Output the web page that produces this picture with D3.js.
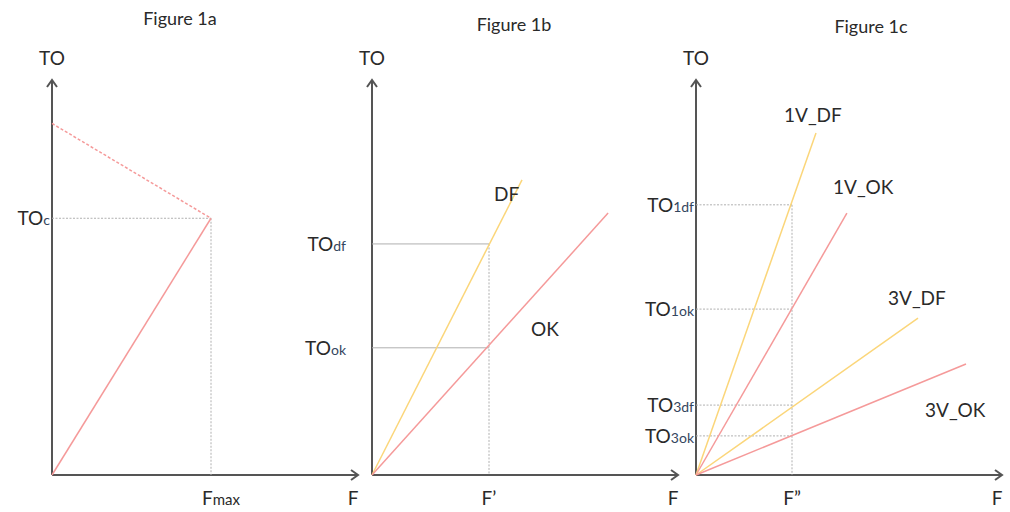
<!DOCTYPE html>
<meta charset="utf-8">
<style>
body{ margin:0; background:#fff; }
text{ font-family: Lato, "Open Sans", sans-serif; fill:#2a2a2a; }
</style>
<body>
<svg class="chart"></svg>
<script src="https://d3js.org/d3.v7.min.js"></script>
<script>
// panel titles and axis labels
var titles = ["Figure 1a", "Figure 1b", "Figure 1c"];
var fTicks = [["F", "max"], ["F\u2019", ""], ["F\u201D", ""]];

// values in arbitrary units, F 0..100, TO 0..100
// figure 1a
var aOK = [[0, 0], [53, 65]];
var aDashed = [[0, 89], [53, 65]];
var aFmax = 53, aTOc = 65;

// figure 1b
var bNames = ["DF", "OK"];
var bEnds = [[50, 74.7], [78.7, 66.3]];
var bFprime = 39;
var bCross = [58.5, 32.2];
var bCrossLabels = [["TO", "df"], ["TO", "ok"]];

// figure 1c
var cNames = ["1V_DF", "1V_OK", "3V_DF", "3V_OK"];
var cEnds = [[40, 86.6], [50.3, 66.3], [74, 39.7], [90, 28.1]];
var cFprime = 32;
var cCross = [68.4, 42, 17.7, 9.9];
var cCrossLabels = [["TO", "1df"], ["TO", "1ok"], ["TO", "3df"], ["TO", "3ok"]];

var RED = "#f59a9a", YEL = "#fbd67a", GRID = "#b0b0b0", AX = "#555";
var FS = 19;

var svg = d3.select("svg").attr("width", 1010).attr("height", 512);

var origins = [52, 372, 696];
var yScale = d3.scaleLinear().domain([0, 100]).range([475, 80]);
function xScaleFor(i) {
  return d3.scaleLinear().domain([0, 100]).range([origins[i], origins[i] + 300]);
}
var line = function (x) {
  return d3.line().x(function (d) { return x(d[0]); }).y(function (d) { return yScale(d[1]); });
};

function drawAxes(i) {
  var x = xScaleFor(i);
  var g = svg.append("g");
  var x0 = x(0), y0 = yScale(0), xEnd = x(102), yTop = yScale(100);
  g.append("line").attr("x1", x0).attr("y1", y0).attr("x2", x0).attr("y2", yTop)
    .attr("stroke", AX).attr("stroke-width", 2);
  g.append("line").attr("x1", x0).attr("y1", y0).attr("x2", xEnd).attr("y2", y0)
    .attr("stroke", AX).attr("stroke-width", 2);
  g.append("path").attr("d", "M" + (x0 - 5) + "," + (yTop + 7) + "L" + x0 + "," + yTop + "L" + (x0 + 5) + "," + (yTop + 7))
    .attr("fill", "none").attr("stroke", AX).attr("stroke-width", 2);
  g.append("path").attr("d", "M" + (xEnd - 7) + "," + (y0 - 5) + "L" + xEnd + "," + y0 + "L" + (xEnd - 7) + "," + (y0 + 5))
    .attr("fill", "none").attr("stroke", AX).attr("stroke-width", 2);
  g.append("text").attr("x", x0).attr("y", 65).attr("text-anchor", "middle")
    .attr("font-size", FS).text("TO");
  g.append("text").attr("x", xEnd - 5).attr("y", 505).attr("text-anchor", "middle")
    .attr("font-size", FS).text("F");
  return x;
}

function guide(x1, y1, x2, y2, dash) {
  svg.append("line").attr("x1", x1).attr("y1", y1).attr("x2", x2).attr("y2", y2)
    .attr("stroke", GRID).attr("stroke-width", 1).attr("stroke-dasharray", dash ? "2,1.5" : null);
}

function subLabel(x, y, parts) {
  var t = svg.append("text").attr("x", x).attr("y", y).attr("text-anchor", "end")
    .attr("font-size", FS);
  t.append("tspan").text(parts[0]);
  t.append("tspan").attr("font-size", 14).attr("fill", "#34465e").text(parts[1]);
}

function title(i, cx, y) {
  svg.append("text").attr("x", cx).attr("y", y).attr("text-anchor", "middle")
    .attr("font-size", 18).attr("fill", "#555").text(titles[i]);
}

function fLabel(x, parts) {
  var t = svg.append("text").attr("x", x).attr("y", 505).attr("text-anchor", "middle")
    .attr("font-size", FS);
  t.append("tspan").text(parts[0]);
  if (parts[1]) t.append("tspan").attr("font-size", 15).text(parts[1]);
}

// ---- figure 1a
var xa = drawAxes(0);
guide(xa(0), yScale(aTOc), xa(aFmax), yScale(aTOc), true);
guide(xa(aFmax), yScale(aTOc), xa(aFmax), yScale(0), true);
svg.append("path").datum(aDashed).attr("d", line(xa)).attr("fill", "none")
  .attr("stroke", RED).attr("stroke-width", 1.5).attr("stroke-dasharray", "3,2");
svg.append("path").datum(aOK).attr("d", line(xa)).attr("fill", "none")
  .attr("stroke", RED).attr("stroke-width", 1.5);
subLabel(50, yScale(aTOc) + 7, ["TO", "c"]);
fLabel(xa(aFmax) + 10, fTicks[0]);
title(0, 180, 25);

// ---- figure 1b
var xb = drawAxes(1);
bCross.forEach(function (v) { guide(xb(0), yScale(v), xb(bFprime), yScale(v), false); });
guide(xb(bFprime), yScale(d3.max(bCross)), xb(bFprime), yScale(0), true);
bEnds.forEach(function (e, k) {
  svg.append("path").datum([[0, 0], e]).attr("d", line(xb)).attr("fill", "none")
    .attr("stroke", k === 0 ? YEL : RED).attr("stroke-width", 1.5);
});
svg.append("text").attr("x", 494).attr("y", 201).attr("font-size", FS).text(bNames[0]);
svg.append("text").attr("x", 531).attr("y", 336).attr("font-size", FS).text(bNames[1]);
bCross.forEach(function (v, k) { subLabel(346, yScale(v) + 7, bCrossLabels[k]); });
fLabel(xb(bFprime), fTicks[1]);
title(1, 514, 31);

// ---- figure 1c
var xc = drawAxes(2);
cCross.forEach(function (v) { guide(xc(0), yScale(v), xc(cFprime), yScale(v), true); });
guide(xc(cFprime), yScale(d3.max(cCross)), xc(cFprime), yScale(0), true);
cEnds.forEach(function (e, k) {
  svg.append("path").datum([[0, 0], e]).attr("d", line(xc)).attr("fill", "none")
    .attr("stroke", k % 2 === 0 ? YEL : RED).attr("stroke-width", 1.5);
});
var cLabelPos = [[784, 122], [833, 194], [888, 305], [925, 417]];
cNames.forEach(function (n, k) {
  svg.append("text").attr("x", cLabelPos[k][0]).attr("y", cLabelPos[k][1]).attr("font-size", FS).text(n);
});
cCross.forEach(function (v, k) { subLabel(694, yScale(v) + 7, cCrossLabels[k]); });
fLabel(xc(cFprime), fTicks[2]);
title(2, 871, 33);
</script>
</body>
</html>
